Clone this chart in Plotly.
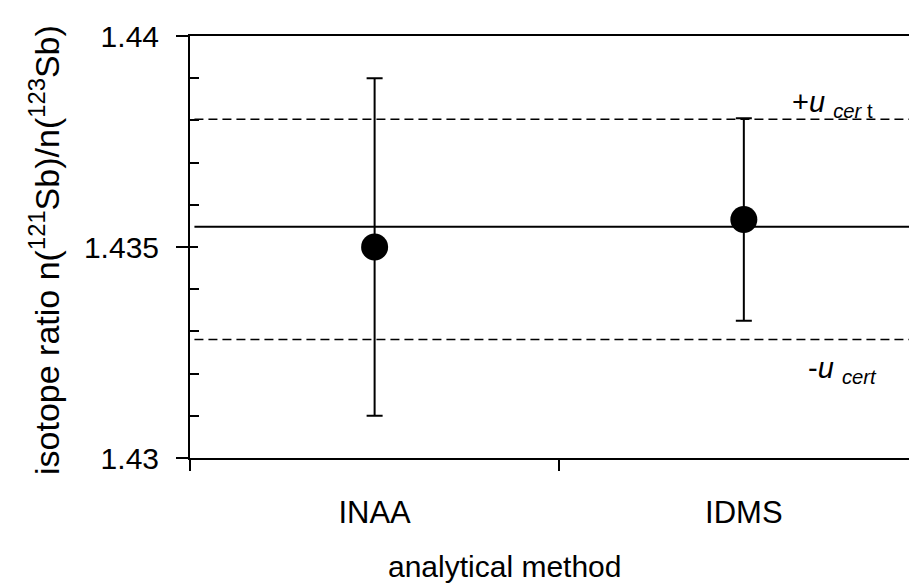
import plotly.graph_objects as go

# ---- data ----
methods = ["INAA", "IDMS"]
method_pos = [0, 1]
ratio = [1.4350, 1.43565]
err_plus = [0.0040, 0.0024]
err_minus = [0.0040, 0.0024]
ref_value = 1.43548
u_upper = 1.43803
u_lower = 1.43281
y_major = [1.43, 1.435, 1.44]
y_major_text = ["1.43", "1.435", "1.44"]
y_minor = [1.431, 1.432, 1.433, 1.434, 1.436, 1.437, 1.438, 1.439]
x_ticks = [-0.5, 0.5, 1.5]

FONT = "Liberation Sans, Arial, sans-serif"
X_RANGE = [-0.5, 1.469]
LINE_X0 = -0.488

fig = go.Figure()

fig.add_trace(go.Scatter(
    x=method_pos, y=ratio, mode="markers",
    marker=dict(size=27, color="black"),
    error_y=dict(type="data", array=err_plus, arrayminus=err_minus,
                 color="black", thickness=2, width=8),
    showlegend=False, hoverinfo="skip",
))
# invisible trace for overlay axis with inside major ticks
fig.add_trace(go.Scatter(x=[0], y=[1.435], yaxis="y2", mode="markers",
                         marker=dict(opacity=0), showlegend=False, hoverinfo="skip"))

# reference value and uncertainty lines
fig.add_shape(type="line", xref="x", yref="y", x0=LINE_X0, x1=X_RANGE[1],
              y0=ref_value, y1=ref_value, line=dict(color="black", width=2))
for v in (u_upper, u_lower):
    fig.add_shape(type="line", xref="x", yref="y", x0=LINE_X0, x1=X_RANGE[1],
                  y0=v, y1=v, line=dict(color="black", width=1.5, dash="9px,5px"))

fig.update_layout(
    width=917, height=586, autosize=False,
    margin=dict(l=182, r=8, t=28, b=136, pad=0),
    paper_bgcolor="white", plot_bgcolor="white",
    font=dict(family=FONT, color="black", size=30),
    xaxis=dict(
        range=X_RANGE, tickmode="array", tickvals=method_pos, ticktext=methods,
        ticks="outside", ticklen=11, tickcolor="rgba(0,0,0,0)",
        ticklabelstandoff=15,
        tickfont=dict(size=31, family=FONT),
        minor=dict(tickmode="array", tickvals=x_ticks, ticks="outside",
                   ticklen=11, tickwidth=2, tickcolor="black", showgrid=False),
        showline=True, linewidth=2, linecolor="black", mirror=True,
        showgrid=False, zeroline=False,
    ),
    yaxis=dict(
        range=[1.43, 1.44], tickmode="array", tickvals=y_major, ticktext=y_major_text,
        ticks="outside", ticklen=12, tickwidth=2, tickcolor="black",
        ticklabelstandoff=11,
        tickfont=dict(size=30, family=FONT),
        minor=dict(tickmode="array", tickvals=y_minor, ticks="inside",
                   ticklen=9, tickwidth=2, tickcolor="black", showgrid=False),
        showline=True, linewidth=2, linecolor="black",
        showgrid=False, zeroline=False,
    ),
    yaxis2=dict(
        overlaying="y", anchor="x", side="left", range=[1.43, 1.44],
        tickmode="array", tickvals=y_major, ticks="inside", ticklen=8,
        tickwidth=2, tickcolor="black", showticklabels=False,
        showline=False, showgrid=False, zeroline=False,
    ),
)

annotations = [
    dict(text="isotope ratio n(<sup>121</sup>Sb)/n(<sup>123</sup>Sb)",
         xref="paper", yref="paper", x=(44 - 190) / 727, y=1 - (250 - 36) / 422,
         textangle=-90, showarrow=False, xanchor="center", yanchor="middle",
         font=dict(size=34, family=FONT)),
    dict(text="analytical method", xref="paper", yref="paper",
         x=(504 - 190) / 727, y=-(566 - 458) / 422,
         showarrow=False, xanchor="center", yanchor="middle",
         font=dict(size=30, family=FONT)),
    dict(text="+<i>u</i> <sub><i>cer</i> t</sub>", xref="paper", yref="paper",
         x=(790 - 190) / 727, y=1 - (104 - 36) / 422,
         showarrow=False, xanchor="left", yanchor="middle",
         font=dict(size=29, family=FONT)),
    dict(text="-<i>u</i> <sub><i>cert</i></sub>", xref="paper", yref="paper",
         x=(806 - 190) / 727, y=1 - (370 - 36) / 422,
         showarrow=False, xanchor="left", yanchor="middle",
         font=dict(size=29, family=FONT)),
]
fig.update_layout(annotations=annotations)

fig.write_html("out.html")
